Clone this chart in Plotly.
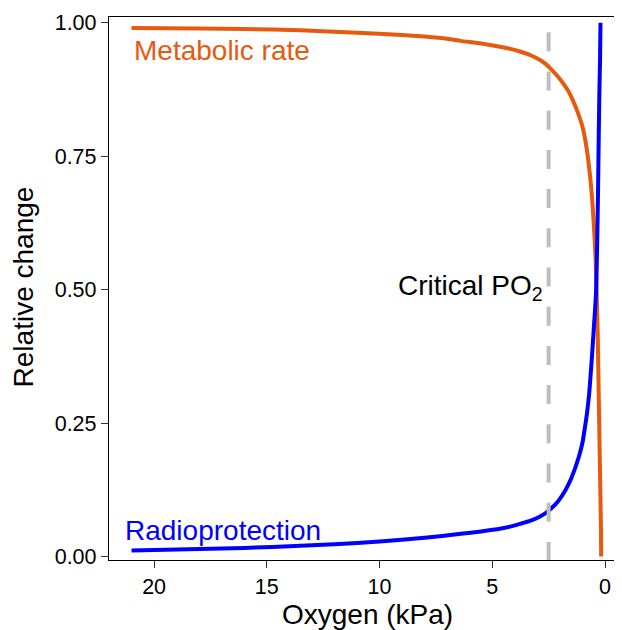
import plotly.graph_objects as go

# Oxygen partial pressure (kPa) and relative metabolic rate
oxygen_metabolic = [21, 18, 16, 13.5, 11, 9, 8, 7, 6.4, 5.5, 4.66, 4.2, 3.77, 3.3, 2.88,
                    2.6, 2.44, 2.13, 1.8, 1.6, 1.42, 1.2, 0.99, 0.85, 0.74, 0.59, 0.49,
                    0.42, 0.37, 0.32, 0.28, 0.23, 0.18, 0.17]
metabolic_rate = [0.990, 0.989, 0.988, 0.986, 0.981, 0.977, 0.974, 0.970, 0.966, 0.961,
                  0.955, 0.951, 0.946, 0.939, 0.930, 0.9215, 0.915, 0.901, 0.883, 0.870,
                  0.854, 0.831, 0.8035, 0.774, 0.742, 0.680, 0.617, 0.560, 0.493, 0.410,
                  0.306, 0.180, 0.055, 0.0]

# Oxygen partial pressure (kPa) and relative radioprotection
oxygen_radio = [21, 20, 18, 16, 13.5, 12, 10, 8, 6.4, 5.5, 4.66, 4.2, 3.77, 3.3, 2.88,
                2.6, 2.44, 2.17, 2.0, 1.77, 1.5, 1.18, 1.0, 0.89, 0.8, 0.70, 0.59, 0.5,
                0.40, 0.35, 0.31, 0.28, 0.25, 0.22, 0.2]
radioprotection = [0.011, 0.012, 0.014, 0.016, 0.020, 0.023, 0.028, 0.035, 0.0425, 0.047,
                   0.052, 0.056, 0.061, 0.067, 0.075, 0.082, 0.088, 0.099, 0.108, 0.123,
                   0.146, 0.184, 0.213, 0.242, 0.268, 0.306, 0.368, 0.425, 0.493, 0.580,
                   0.680, 0.780, 0.868, 0.930, 1.0]

critical_po2 = 2.5
critical_span = [0.982, -0.0066]

y_ticks = [0, 0.25, 0.5, 0.75, 1.0]
y_tick_labels = ["0.00", "0.25", "0.50", "0.75", "1.00"]
x_ticks = [20, 15, 10, 5, 0]

ORANGE = "#E65A0E"
BLUE = "#0000FF"
FONT = "Liberation Sans, Arial, sans-serif"

fig = go.Figure()
fig.add_trace(go.Scatter(x=oxygen_metabolic, y=metabolic_rate, mode="lines",
                         line=dict(color=ORANGE, width=4, shape="spline", smoothing=0.6),
                         hoverinfo="skip"))
fig.add_trace(go.Scatter(x=oxygen_radio, y=radioprotection, mode="lines",
                         line=dict(color=BLUE, width=4, shape="spline", smoothing=0.6),
                         hoverinfo="skip"))
fig.add_trace(go.Scatter(x=[critical_po2, critical_po2], y=critical_span, mode="lines",
                         line=dict(color="#BEBEBE", width=4, dash="19px,20.2px"),
                         hoverinfo="skip"))

fig.add_annotation(x=21, y=0.948, text="Metabolic rate", showarrow=False,
                   xanchor="left", yanchor="middle",
                   font=dict(family=FONT, size=28, color=ORANGE))
fig.add_annotation(x=21.4, y=0.049, text="Radioprotection", showarrow=False,
                   xanchor="left", yanchor="middle",
                   font=dict(family=FONT, size=28, color=BLUE))
fig.add_annotation(x=9.25, y=0.504, text="Critical PO<sub>2</sub>", showarrow=False,
                   xanchor="left", yanchor="middle",
                   font=dict(family=FONT, size=28, color="black"))

# axis titles
fig.add_annotation(xref="paper", yref="paper", x=0.504, y=-0.1005, text="Oxygen (kPa)",
                   showarrow=False, xanchor="center", yanchor="middle",
                   font=dict(family=FONT, size=28, color="black"))
fig.add_annotation(xref="paper", yref="paper", x=-0.1676, y=0.502, text="Relative change",
                   showarrow=False, xanchor="center", yanchor="middle", textangle=-90,
                   font=dict(family=FONT, size=28, color="black"))

# page body has an 8px margin, so the figure is sized/offset to fill the window exactly
fig.update_layout(
    width=614, height=622,
    margin=dict(l=101, r=0, t=9, b=70, autoexpand=False),
    paper_bgcolor="white", plot_bgcolor="white",
    showlegend=False,
    font=dict(family=FONT, color="black"),
)
fig.update_xaxes(
    range=[22.0, -0.754], tickvals=x_ticks, ticktext=[str(v) for v in x_ticks],
    showline=True, linecolor="black", linewidth=1.3, mirror=True,
    ticks="outside", ticklen=7, tickwidth=1.3, tickcolor="#333333",
    showgrid=False, zeroline=False, automargin=False,
    tickfont=dict(family=FONT, size=21.5, color="black"),
)
fig.update_yaxes(
    range=[-0.0066, 1.0107], tickvals=y_ticks, ticktext=y_tick_labels,
    showline=True, linecolor="black", linewidth=1.3,
    ticks="outside", ticklen=7, tickwidth=1.3, tickcolor="#333333",
    showgrid=False, zeroline=False, automargin=False,
    tickfont=dict(family=FONT, size=21.5, color="black"),
)

fig.write_html("out.html")
